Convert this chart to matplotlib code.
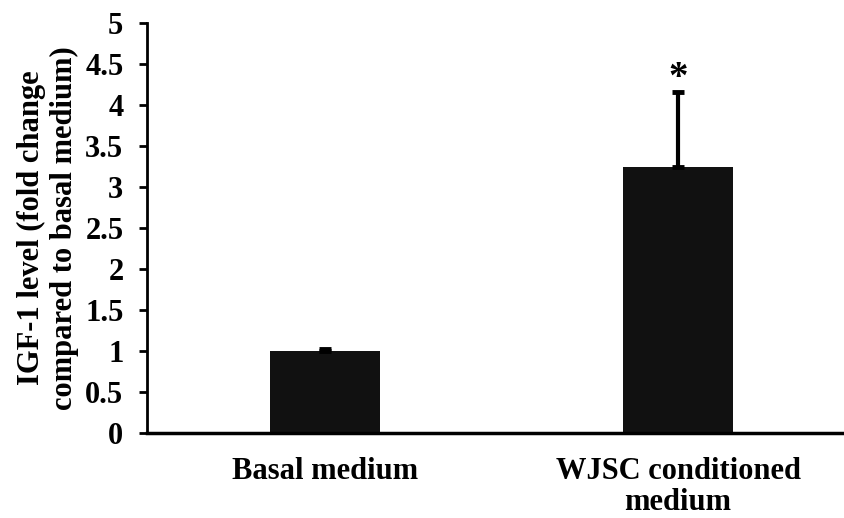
import numpy as np
import matplotlib
matplotlib.use("Agg")
import matplotlib.pyplot as plt

# Datos
categories = ["Basal medium", "WJSC conditioned\nmedium"]
values = [1.0, 3.24]
errors = [0.02, 0.92]
sig_marks = ["", "*"]
yticks = [0, 0.5, 1, 1.5, 2, 2.5, 3, 3.5, 4, 4.5, 5]
ytick_labels = ["0", "0.5", "1", "1.5", "2", "2.5", "3", "3.5", "4", "4.5", "5"]

plt.rcParams['font.family'] = ['Liberation Serif', 'DejaVu Serif']
plt.rcParams['font.weight'] = 'bold'

fig = plt.figure(figsize=(8.45, 5.18), dpi=100)
ax = fig.add_axes([0.174, 0.164, 0.826, 0.792])

x = np.arange(len(categories))
ax.bar(x, values, width=0.314, color="#111111", zorder=2)
ax.errorbar(x, values, yerr=[np.zeros(len(errors)), errors], fmt="none",
            ecolor="black", elinewidth=3, capsize=4, capthick=3.5, zorder=3)

# asterisco de significancia
for xi, v, e, m in zip(x, values, errors, sig_marks):
    if m:
        ax.text(xi, v + e - 0.07, m, ha="center", va="bottom", fontsize=28, fontweight="bold")

ax.set_xlim(-0.504, 1.473)
ax.set_ylim(0, 5)
ax.set_yticks(yticks)
ax.set_yticklabels(ytick_labels, fontsize=22, fontweight="bold")
ax.set_xticks(x)
ax.set_xticklabels(categories, fontsize=22, fontweight="bold", linespacing=1.1)
ax.tick_params(axis="x", length=0, pad=17)
ax.tick_params(axis="y", direction="out", length=6, width=2, pad=11)

ax.spines["top"].set_visible(False)
ax.spines["right"].set_visible(False)
ax.spines["left"].set_linewidth(2)
ax.spines["bottom"].set_linewidth(2.5)

ax.set_ylabel("IGF-1 level (fold change\ncompared to basal medium)", fontsize=22,
              fontweight="bold", labelpad=4)

fig.savefig("out.png", dpi=100)
